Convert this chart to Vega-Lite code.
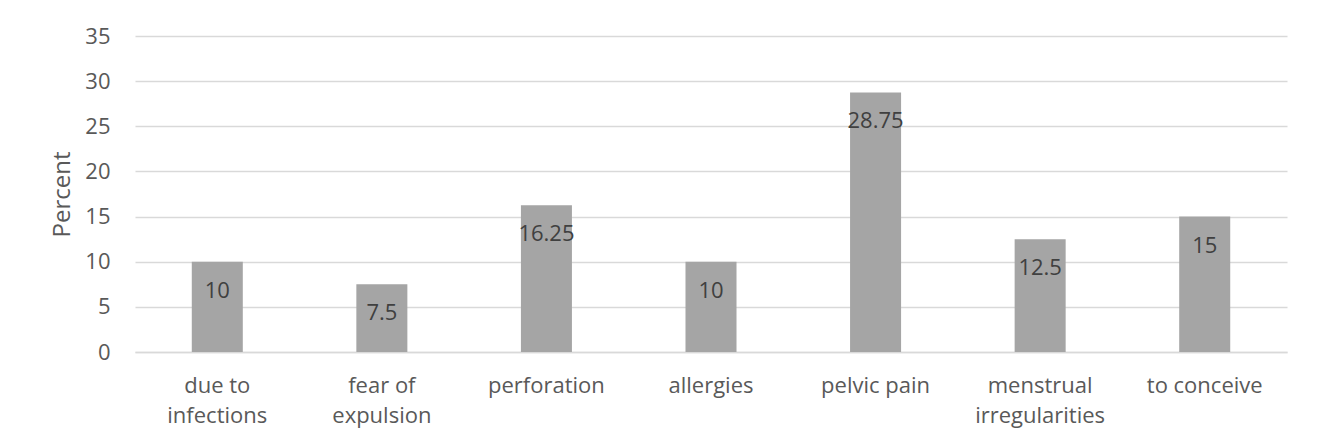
{
  "$schema": "https://vega.github.io/schema/vega-lite/v6.json",
  "autosize": {"type": "none"},
  "width": 1152,
  "height": 316,
  "padding": {"left": 135, "top": 36, "right": 32, "bottom": 95},
  "background": "white",
  "data": {"values": [
    {"reason": "due to infections", "percent": 10},
    {"reason": "fear of expulsion", "percent": 7.5},
    {"reason": "perforation", "percent": 16.25},
    {"reason": "allergies", "percent": 10},
    {"reason": "pelvic pain", "percent": 28.75},
    {"reason": "menstrual irregularities", "percent": 12.5},
    {"reason": "to conceive", "percent": 15}
  ]},
  "encoding": {
    "x": {"field": "reason", "type": "nominal", "sort": null,
      "scale": {"paddingInner": 0.69, "paddingOuter": 0.345},
      "axis": {"title": null, "labelAngle": 0, "ticks": false, "domainColor": "#d9d9d9", "domainWidth": 1.5,
        "labelFont": "Open Sans", "labelFontSize": 22, "labelColor": "#595959", "labelPadding": 23, "labelLineHeight": 30,
        "labelExpr": "datum.label == 'due to infections' ? ['due to','infections'] : datum.label == 'fear of expulsion' ? ['fear of','expulsion'] : datum.label == 'menstrual irregularities' ? ['menstrual','irregularities'] : datum.label"}},
    "y": {"field": "percent", "type": "quantitative",
      "scale": {"domain": [0, 35], "nice": false},
      "axis": {"title": "Percent", "values": [0, 5, 10, 15, 20, 25, 30, 35], "domain": false, "ticks": false,
        "gridColor": "#d9d9d9", "gridWidth": 1.5, "labelFont": "Open Sans", "labelFontSize": 22, "labelColor": "#595959", "labelPadding": 25,
        "titleFont": "Open Sans", "titleFontSize": 24, "titleFontWeight": "normal", "titleColor": "#595959", "titlePadding": 10}}
  },
  "layer": [
    {"mark": {"type": "bar", "color": "#a5a5a5"}},
    {"mark": {"type": "text", "baseline": "middle", "dy": 29, "font": "Open Sans", "fontSize": 22, "color": "#404040"},
      "encoding": {"text": {"field": "percent", "type": "quantitative"}}}
  ],
  "config": {"view": {"stroke": null}}
}
